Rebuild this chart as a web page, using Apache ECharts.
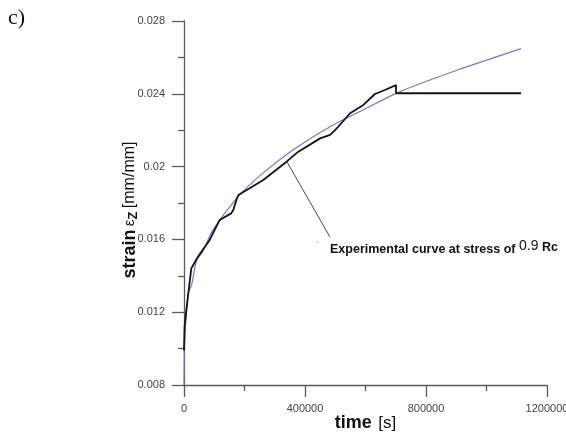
<!DOCTYPE html>
<html>
<head>
<meta charset="utf-8">
<script src="https://cdn.jsdelivr.net/npm/echarts@6/dist/echarts.min.js"></script>
<style>
  html, body { margin: 0; padding: 0; background: #fff; }
  #chart { width: 566px; height: 435px; }
</style>
</head>
<body>
<div id="chart"></div>
<script>
// experimental creep curve (black)
const expTime = [0, 2000, 7600, 24000, 46000, 85000, 118000, 156000, 163000, 173000, 180000, 262000, 339000, 378000, 450000, 483000, 505000, 549000, 593000, 631000, 664000, 701000, 701000, 1114000]
const expStrain = [0.0099, 0.0112, 0.0121, 0.0144, 0.01505, 0.01597, 0.01707, 0.01743, 0.01762, 0.01817, 0.01844, 0.01926, 0.02027, 0.02082, 0.02155, 0.02174, 0.0221, 0.02293, 0.02339, 0.02399, 0.02421, 0.02448, 0.02403, 0.02403]

// fitted curve (blue)
const fitTime = [0, 1000, 3300, 14300, 25000, 42000, 60000, 96000, 174000, 250000, 360000, 482600, 600000, 714000, 900000, 1114000]
const fitStrain = [0.008, 0.00996, 0.01086, 0.01305, 0.01349, 0.01487, 0.01527, 0.01652, 0.01826, 0.01949, 0.02091, 0.02219, 0.02318, 0.02412, 0.02528, 0.02648]

// pointer line of the annotation (data coords)
const pointerFrom = [339000, 0.0203]
const pointerTo = [482600, 0.01613]

const xMin = 0, xMax = 1200000, xStep = 400000
const yMin = 0.008, yMax = 0.028, yStep = 0.004

const zip = (a, b) => a.map((v, i) => [v, b[i]])

const chart = echarts.init(document.getElementById('chart'), null, { renderer: 'canvas' })

const axisColor = '#5a5a5a'
const fontSans = 'Arial, Liberation Sans, sans-serif'
const labelFont = { color: '#444', fontSize: 11, fontFamily: fontSans }

let option = {
  animation: false,
  backgroundColor: '#fff',
  grid: { left: 184, right: 19, top: 21, bottom: 50, outerBoundsMode: 'none', containLabel: false },
  xAxis: {
    type: 'value',
    min: xMin, max: xMax, interval: xStep,
    axisLine: { show: true, lineStyle: { color: axisColor, width: 1.3 } },
    axisTick: { show: true, length: 12, lineStyle: { color: axisColor, width: 1.3 } },
    minorTick: { show: true, splitNumber: 2, length: 6, lineStyle: { color: axisColor, width: 1.3 } },
    splitLine: { show: false },
    axisLabel: Object.assign({ margin: 18, formatter: v => String(v) }, labelFont),
    name: '{b|time}  {n|[s]}',
    nameLocation: 'middle',
    nameMoveOverlap: false,
    nameGap: 29,
    nameTextStyle: {
      rich: {
        b: { fontSize: 18, fontWeight: 'bold', color: '#111', fontFamily: fontSans },
        n: { fontSize: 17, color: '#111', fontFamily: fontSans }
      }
    }
  },
  yAxis: {
    type: 'value',
    min: yMin, max: yMax, interval: yStep,
    axisLine: { show: true, lineStyle: { color: axisColor, width: 1.3 } },
    axisTick: { show: true, length: 12, lineStyle: { color: axisColor, width: 1.3 } },
    minorTick: { show: true, splitNumber: 2, length: 6, lineStyle: { color: axisColor, width: 1.3 } },
    splitLine: { show: false },
    axisLabel: Object.assign({ margin: 19 }, labelFont),
    name: '{b|strain} {e|ε}{z|Z} {n|[mm/mm]}',
    nameLocation: 'middle',
    nameMoveOverlap: false,
    nameGap: 44,
    nameTextStyle: {
      rich: {
        b: { fontSize: 18, fontWeight: 'bold', color: '#111', fontFamily: fontSans },
        e: { fontSize: 15, color: '#111', fontFamily: fontSans },
        z: { fontSize: 13, fontWeight: 'bold', color: '#111', padding: [7, 0, 0, 0], fontFamily: fontSans },
        n: { fontSize: 16, color: '#111', fontFamily: fontSans, padding: [0, 14, 0, 0] }
      }
    }
  },
  series: [
    {
      name: 'fit',
      type: 'line',
      data: zip(fitTime, fitStrain),
      smooth: 0.3,
      showSymbol: false,
      lineStyle: { color: '#7676d2', width: 1.2 },
      z: 2
    },
    {
      name: 'experimental',
      type: 'line',
      data: zip(expTime, expStrain),
      showSymbol: false,
      lineStyle: { color: '#141414', width: 1.8 },
      z: 3,
      markLine: {
        silent: true,
        symbol: ['none', 'none'],
        label: { show: false },
        lineStyle: { color: '#4a4a4a', width: 1, type: 'solid' },
        data: [[{ coord: pointerFrom }, { coord: pointerTo }]]
      }
    }
  ],
  graphic: [
    {
      type: 'text', left: 8, top: 7,
      style: { text: 'c)', font: '22px "Liberation Serif", "DejaVu Serif", serif', fill: '#111' }
    },
    {
      type: 'text', left: 317, top: 240,
      style: { text: "'", font: '9px Arial, "Liberation Sans", sans-serif', fill: '#999' }
    },
    {
      type: 'text', left: 330, top: 239,
      style: {
        text: '{a|Experimental curve at stress of }{b|0.9}{c| Rc}',
        rich: {
          a: { fontSize: 12.5, fontWeight: 'bold', fill: '#111', fontFamily: fontSans, padding: [4, 0, 0, 0] },
          b: { fontSize: 14, fill: '#111', fontFamily: fontSans, padding: [0, 0, 4, 0] },
          c: { fontSize: 12.5, fontWeight: 'bold', fill: '#111', fontFamily: fontSans }
        }
      }
    }
  ]
}

chart.setOption(option)
</script>
</body>
</html>
